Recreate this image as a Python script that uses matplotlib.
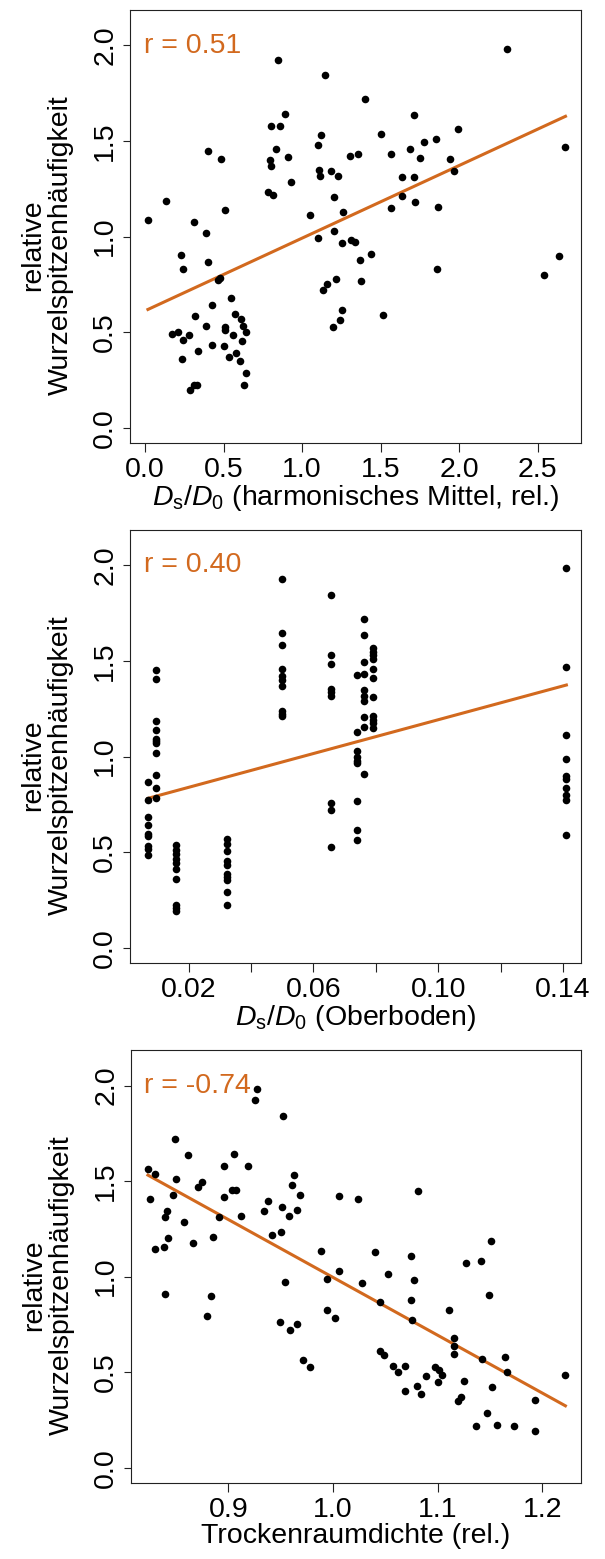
import numpy as np
import matplotlib
matplotlib.use("Agg")
import matplotlib.pyplot as plt

# Schrift / Stil
plt.rcParams['font.family'] = ['Liberation Sans', 'DejaVu Sans']
plt.rcParams['mathtext.fontset'] = 'custom'
plt.rcParams['mathtext.rm'] = 'Liberation Sans'
plt.rcParams['mathtext.it'] = 'Liberation Sans:italic'

ORANGE = '#D2691E'
FS = 20.5

# Panel 1: Ds/D0 (harmonisches Mittel, rel.)
x_harm = [2.306, 0.847, 1.146, 1.398, 0.891, 1.710, 0.800, 0.861, 1.995, 1.504,
          1.120, 1.850, 1.778, 2.676, 0.403, 1.101, 0.832, 1.687, 1.305, 1.358,
          1.566, 0.908, 1.748, 0.482, 0.794, 1.941, 0.800, 1.108, 1.182, 1.965,
          1.114, 1.229, 1.634, 1.710, 0.931, 0.785, 0.817, 1.634, 1.205, 0.136,
          1.717, 1.566, 1.865, 0.509, 1.258, 1.052, 0.019, 0.312, 0.388, 1.205,
          1.099, 1.313, 1.337, 1.252, 1.437, 0.227, 2.637,
          0.403, 0.242, 0.463, 0.477, 1.367, 1.857, 2.538, 1.131, 1.161, 1.214,
          1.375, 0.426, 0.550, 1.252, 1.241, 1.199, 1.513, 0.318, 0.573, 0.609,
          0.388, 0.509, 0.511, 0.624, 0.641, 0.174, 0.212, 0.282, 0.562, 0.242,
          0.617, 0.426, 0.503, 0.335, 0.579, 0.533, 0.233, 0.603, 0.641, 0.632,
          0.314, 0.329, 0.286]
y_harm = [1.982, 1.926, 1.844, 1.719, 1.644, 1.637, 1.581, 1.581, 1.564, 1.538,
          1.531, 1.512, 1.494, 1.470, 1.449, 1.480, 1.456, 1.456, 1.424, 1.431,
          1.431, 1.418, 1.412, 1.405, 1.400, 1.405, 1.369, 1.350, 1.344, 1.344,
          1.318, 1.318, 1.311, 1.311, 1.287, 1.236, 1.217, 1.212, 1.205, 1.186,
          1.180, 1.149, 1.156, 1.137, 1.130, 1.111, 1.086, 1.074, 1.017, 1.029,
          0.992, 0.985, 0.973, 0.966, 0.911, 0.903, 0.898,
          0.867, 0.829, 0.775, 0.785, 0.879, 0.829, 0.797, 0.722, 0.754, 0.778,
          0.766, 0.640, 0.679, 0.616, 0.566, 0.527, 0.592, 0.585, 0.597, 0.571,
          0.534, 0.527, 0.511, 0.534, 0.503, 0.490, 0.503, 0.484, 0.484, 0.457,
          0.452, 0.433, 0.426, 0.402, 0.389, 0.370, 0.358, 0.351, 0.289, 0.226,
          0.222, 0.222, 0.196]

# Panel 2: Ds/D0 (Oberboden) - Werte je Standort (Spalten)
ober_x = [0.0070, 0.0096, 0.0161, 0.0323, 0.0500,
          0.0656, 0.0740, 0.0761, 0.0791, 0.1411]
ober_y = [
    [0.868, 0.775, 0.683, 0.641, 0.596, 0.583, 0.531, 0.514, 0.486],
    [1.451, 1.408, 1.187, 1.138, 1.094, 1.082, 1.072, 1.019, 0.904, 0.833, 0.784],
    [0.535, 0.509, 0.488, 0.465, 0.444, 0.413, 0.361, 0.226, 0.209, 0.191],
    [0.571, 0.540, 0.505, 0.453, 0.435, 0.388, 0.371, 0.353, 0.291, 0.226],
    [1.929, 1.647, 1.584, 1.458, 1.420, 1.403, 1.371, 1.239, 1.225, 1.214],
    [1.847, 1.533, 1.483, 1.354, 1.336, 1.319, 0.756, 0.723, 0.528],
    [1.429, 1.131, 1.031, 0.998, 0.975, 0.967, 0.766, 0.618, 0.566],
    [1.720, 1.638, 1.493, 1.432, 1.347, 1.319, 1.289, 1.207, 1.157, 0.911],
    [1.568, 1.547, 1.533, 1.511, 1.458, 1.409, 1.312, 1.214, 1.193, 1.173, 1.148],
    [1.986, 1.470, 1.111, 0.988, 0.897, 0.885, 0.836, 0.801, 0.775, 0.592],
]

# Panel 3: Trockenraumdichte (rel.)
x_dichte = [0.927, 0.925, 0.952, 0.849, 0.861, 0.905, 0.896, 0.919, 0.823, 0.830,
            0.963, 0.850, 0.875, 0.871, 0.961, 1.081, 0.903, 0.907, 0.847, 0.968,
            1.006, 1.024, 0.896, 0.825, 0.938, 0.951, 0.934, 0.841, 0.965, 0.839,
            0.891, 0.912, 0.958, 0.857, 0.950, 0.942, 0.885, 0.842, 1.151, 0.866,
            0.830, 0.838, 0.988, 1.040, 1.074, 1.127, 1.141, 1.006, 1.052, 0.994,
            1.077, 0.954, 1.028, 0.839, 0.883, 1.149,
            1.045, 1.074, 0.879, 1.111, 0.994, 1.002, 1.075, 0.949, 0.965, 0.959,
            1.116, 1.116, 1.045, 1.049, 1.116, 1.164, 1.142, 0.971, 0.978, 1.057,
            1.069, 1.097, 1.101, 1.062, 1.166, 1.222, 1.104, 1.089, 1.125, 1.100,
            1.080, 1.152, 1.069, 1.084, 1.122, 1.119, 1.193, 1.147, 1.137, 1.157,
            1.173, 1.193]
y_dichte = [1.981, 1.925, 1.843, 1.718, 1.636, 1.643, 1.580, 1.580, 1.561, 1.537,
            1.530, 1.512, 1.493, 1.467, 1.479, 1.448, 1.455, 1.455, 1.429, 1.429,
            1.422, 1.404, 1.417, 1.406, 1.397, 1.366, 1.341, 1.341, 1.347, 1.310,
            1.310, 1.317, 1.315, 1.284, 1.234, 1.216, 1.209, 1.202, 1.185, 1.178,
            1.146, 1.153, 1.134, 1.127, 1.108, 1.071, 1.084, 1.028, 1.016, 0.990,
            0.984, 0.972, 0.965, 0.907, 0.897, 0.902,
            0.866, 0.878, 0.796, 0.827, 0.827, 0.782, 0.774, 0.765, 0.753, 0.721,
            0.678, 0.639, 0.613, 0.589, 0.596, 0.582, 0.571, 0.564, 0.526, 0.533,
            0.533, 0.526, 0.514, 0.502, 0.502, 0.488, 0.483, 0.481, 0.456, 0.449,
            0.430, 0.425, 0.401, 0.387, 0.369, 0.352, 0.355, 0.287, 0.218, 0.225,
            0.218, 0.191]

r_labels = ['r = 0.51', 'r = 0.40', 'r = -0.74']
ylabel = 'relative\nWurzelspitzenhäufigkeit'
xlabels = [r'$\mathit{D}_\mathrm{s}/\mathit{D}_0$ (harmonisches Mittel, rel.)',
           r'$\mathit{D}_\mathrm{s}/\mathit{D}_0$ (Oberboden)',
           'Trockenraumdichte (rel.)']


def style_axes(ax, xlabel):
    """R-artige Achsen: Kasten, Ticks nach aussen, gedrehte y-Beschriftung"""
    for sp in ax.spines.values():
        sp.set_linewidth(0.8)
        sp.set_color('#222222')
    ax.set_ylim(-0.08, 2.185)
    ax.set_yticks([0.0, 0.5, 1.0, 1.5, 2.0])
    ax.set_yticklabels(['0.0', '0.5', '1.0', '1.5', '2.0'])
    ax.tick_params(axis='y', length=5, width=0.8, pad=3.5, labelsize=FS,
                   labelrotation=90, color='#222222')
    ax.tick_params(axis='x', length=6.5, width=0.8, pad=3.5, labelsize=FS,
                   color='#222222')
    for lab in ax.get_yticklabels():
        lab.set_va('center')
    ax.set_ylabel(ylabel, fontsize=FS, linespacing=1.12)
    ax.yaxis.set_label_coords(-0.124, 0.458)
    ax.set_xlabel(xlabel, fontsize=FS, labelpad=0)


def add_fit(ax, x, y, r_text):
    """Regressionsgerade + r-Wert"""
    x = np.asarray(x)
    y = np.asarray(y)
    k, d = np.polyfit(x, y, 1)
    xs = np.array([x.min(), x.max()])
    ax.plot(xs, k * xs + d, color=ORANGE, lw=2.2, zorder=3)
    ax.text(0.03, 0.902, r_text, transform=ax.transAxes, color=ORANGE,
            fontsize=FS, ha='left', va='baseline')


fig = plt.figure(figsize=(6.05, 15.59), dpi=100)
left, width, height = 0.2149, 0.7455, 0.2777

# --- Panel 1 ---
ax1 = fig.add_axes([left, 0.7158, width, height])
ax1.scatter(x_harm, y_harm, s=30, color='black', zorder=4, linewidths=0)
add_fit(ax1, x_harm, y_harm, r_labels[0])
ax1.set_xlim(-0.095, 2.775)
ax1.set_xticks([0.0, 0.5, 1.0, 1.5, 2.0, 2.5])
ax1.set_xticklabels(['0.0', '0.5', '1.0', '1.5', '2.0', '2.5'])
style_axes(ax1, xlabels[0])

# --- Panel 2 ---
ax2 = fig.add_axes([left, 0.3823, width, height])
x2 = np.concatenate([[xv] * len(yv) for xv, yv in zip(ober_x, ober_y)])
y2 = np.concatenate(ober_y)
ax2.scatter(x2, y2, s=30, color='black', zorder=4, linewidths=0)
add_fit(ax2, x2, y2, r_labels[1])
ax2.set_xlim(0.00125, 0.1458)
ticks2 = [0.02, 0.04, 0.06, 0.08, 0.10, 0.12, 0.14]
ax2.set_xticks(ticks2)
ax2.set_xticklabels(['0.02', '', '0.06', '', '0.10', '', '0.14'])
style_axes(ax2, xlabels[1])

# --- Panel 3 ---
ax3 = fig.add_axes([0.2165, 0.0487, 0.7438, height])
ax3.scatter(x_dichte, y_dichte, s=30, color='black', zorder=4, linewidths=0)
add_fit(ax3, x_dichte, y_dichte, r_labels[2])
ax3.set_xlim(0.8068, 1.2369)
ax3.set_xticks([0.9, 1.0, 1.1, 1.2])
ax3.set_xticklabels(['0.9', '1.0', '1.1', '1.2'])
style_axes(ax3, xlabels[2])

fig.savefig('out.png', dpi=100)
